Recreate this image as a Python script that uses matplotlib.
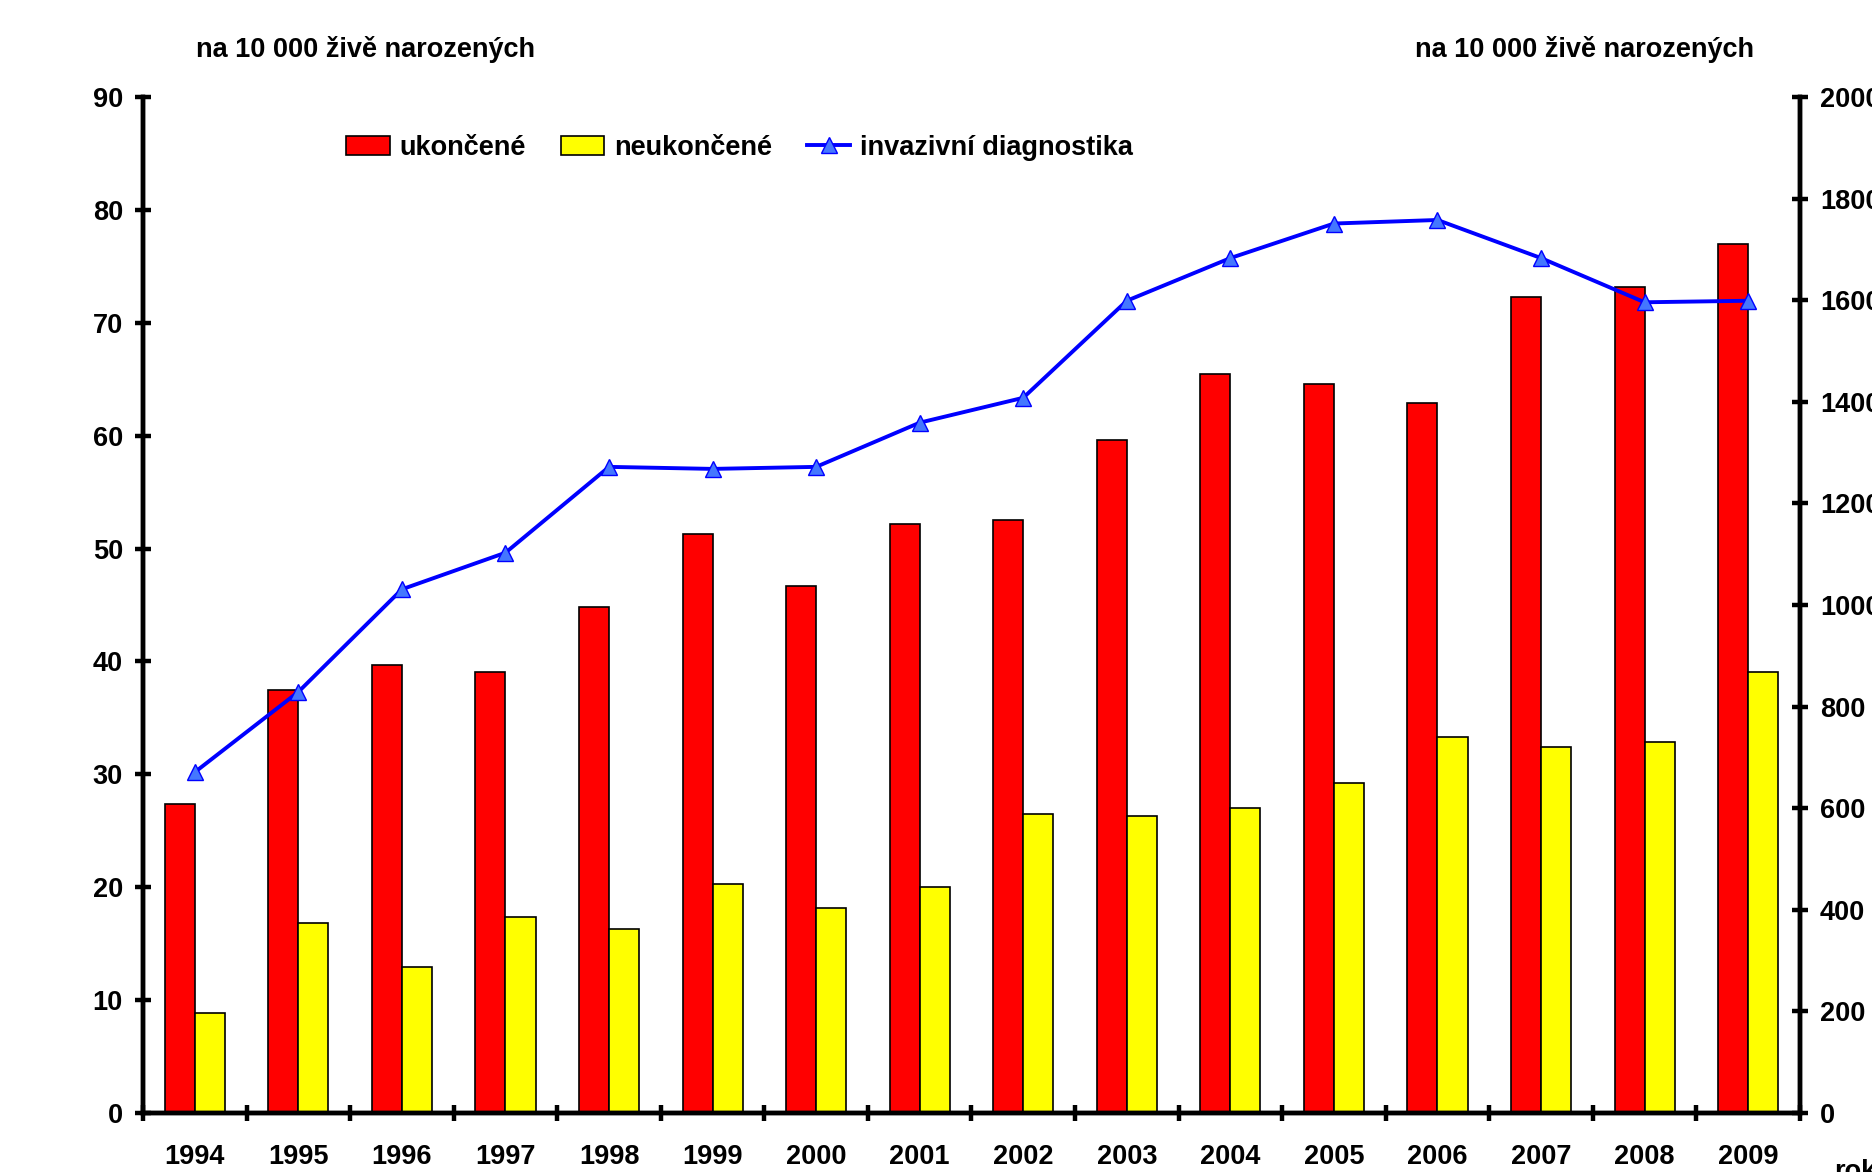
import matplotlib.pyplot as plt
import numpy as np
from matplotlib.lines import Line2D
from matplotlib.patches import Patch

plt.rcParams['font.family'] = ['Liberation Sans', 'DejaVu Sans']
plt.rcParams['font.weight'] = 'bold'

# data
years = ['1994', '1995', '1996', '1997', '1998', '1999', '2000', '2001',
         '2002', '2003', '2004', '2005', '2006', '2007', '2008', '2009']
ukoncene = [27.4, 37.5, 39.7, 39.1, 44.8, 51.3, 46.7, 52.2,
            52.5, 59.6, 65.5, 64.6, 62.9, 72.3, 73.2, 77.0]
neukoncene = [8.9, 16.8, 12.9, 17.4, 16.3, 20.3, 18.2, 20.0,
              26.5, 26.3, 27.0, 29.2, 33.3, 32.4, 32.9, 39.1]
invazivni = [671, 829, 1031, 1103, 1272, 1268, 1272, 1359,
             1408, 1599, 1683, 1751, 1758, 1683, 1596, 1599]

x = np.arange(len(years))
w = 0.29

fig = plt.figure(figsize=(18.72, 11.72), dpi=100)
ax = fig.add_axes([0.0764, 0.0503, 0.8851, 0.8669])

ax.bar(x - w / 2, ukoncene, w, color='#FF0000', edgecolor='black', linewidth=1.2)
ax.bar(x + w / 2, neukoncene, w, color='#FFFF00', edgecolor='black', linewidth=1.2)
ax.set_xlim(-0.5, len(years) - 0.5)
ax.set_ylim(0, 90)
ax.set_yticks(np.arange(0, 91, 10))

ax2 = ax.twinx()
ax2.plot(x, invazivni, color='#0000FF', linewidth=2.8, marker='^',
         markersize=11, markerfacecolor='#4477FF', markeredgecolor='#0000FF')
ax2.set_ylim(0, 2000)
ax2.set_yticks(np.arange(0, 2001, 200))

for a in (ax, ax2):
    a.spines['top'].set_visible(False)
    for s in ('left', 'right', 'bottom'):
        a.spines[s].set_linewidth(3.2)

ax.set_xticks(x)
ax.set_xticklabels(years)
ax.set_xticks(np.arange(-0.5, len(years), 1), minor=True)
ax.tick_params(axis='x', which='major', length=0, pad=22, labelsize=19.5)
ax.tick_params(axis='x', which='minor', direction='inout', length=11, width=3.2)
ax.tick_params(axis='y', direction='inout', length=11, width=3.2, pad=9, labelsize=19.5)
ax2.tick_params(axis='y', direction='inout', length=11, width=3.2, pad=9, labelsize=19.5)

fig.text(0.1047, 0.9575, 'na 10 000 živě narozených', fontsize=19.5, fontweight='bold',
         va='center', ha='left')
fig.text(0.7559, 0.9575, 'na 10 000 živě narozených', fontsize=19.5, fontweight='bold',
         va='center', ha='left')
fig.text(0.980, 0.0, 'rok', fontsize=19.5, fontweight='bold', va='center', ha='left')

handles = [Patch(facecolor='#FF0000', edgecolor='black', linewidth=1.2, label='ukončené'),
           Patch(facecolor='#FFFF00', edgecolor='black', linewidth=1.2, label='neukončené'),
           Line2D([], [], color='#0000FF', linewidth=2.8, marker='^', markersize=11,
                  markerfacecolor='#4477FF', markeredgecolor='#0000FF',
                  label='invazivní diagnostika')]
ax2.legend(handles=handles, loc='center', bbox_to_anchor=(0.36, 0.95), ncol=3,
           frameon=False, fontsize=19.5, handlelength=1.6, columnspacing=1.3,
           handletextpad=0.35)

fig.savefig('out.png', dpi=100)
